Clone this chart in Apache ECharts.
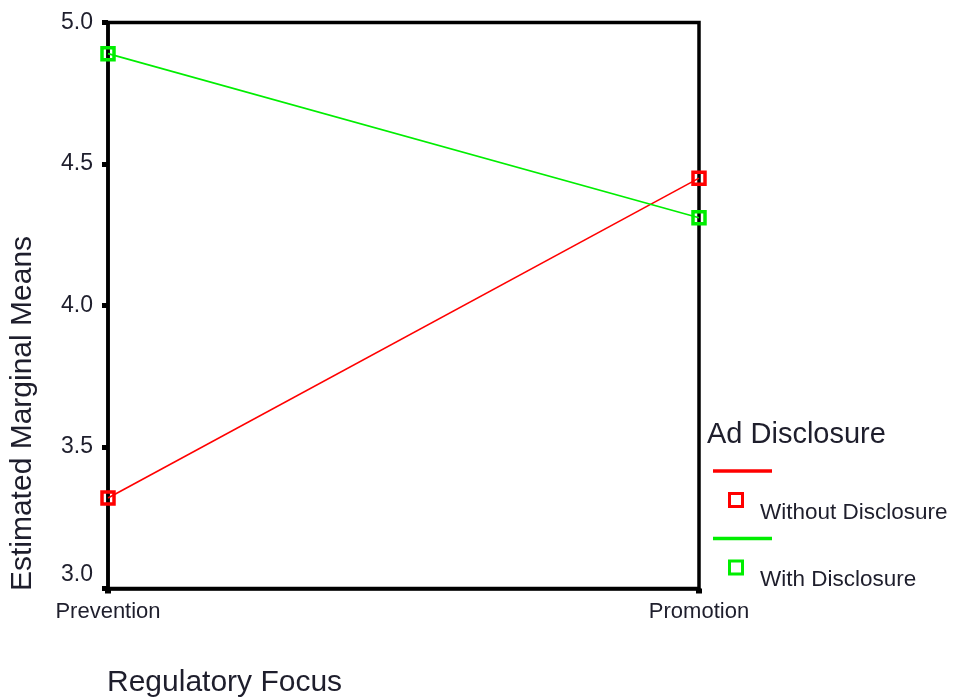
<!DOCTYPE html>
<html>
<head>
<meta charset="utf-8">
<script src="https://cdn.jsdelivr.net/npm/echarts@6/dist/echarts.min.js"></script>
<style>
  html, body { margin: 0; padding: 0; background: #fff; }
  #chart { width: 955px; height: 698px; }
</style>
</head>
<body>
<div id="chart"></div>
<script>
// Estimated marginal means by regulatory focus and ad disclosure
const categories = ['Prevention', 'Promotion'];
const withoutDisclosure = [3.32, 4.45];
const withDisclosure = [4.89, 4.31];
const seriesNames = ['Without Disclosure', 'With Disclosure'];
const seriesColors = ['#ff0000', '#00ee00'];
const legendTitle = 'Ad Disclosure';
const xTitle = 'Regulatory Focus';
const yTitle = 'Estimated Marginal Means';

const FONT = '"Liberation Sans", Arial, sans-serif';
const TEXT = '#1e1e2c';

const chart = echarts.init(document.getElementById('chart'), null, { renderer: 'canvas' });

function lineSeries(name, data, color) {
  return {
    name: name,
    type: 'line',
    data: data,
    symbol: 'rect',
    symbolSize: 12,
    showSymbol: true,
    lineStyle: { color: color, width: 1.6 },
    itemStyle: { color: 'rgba(0,0,0,0)', borderColor: color, borderWidth: 3.5 },
    emphasis: { disabled: true },
    z: 5
  };
}

// legend block: line sample, square marker, label
const legendGraphics = [
  { type: 'text', left: 707, top: 420, style: { text: legendTitle, font: '29px ' + FONT, fill: TEXT } }
];
seriesNames.forEach(function (name, i) {
  const y0 = 471 + i * 67.5;
  legendGraphics.push(
    { type: 'line', shape: { x1: 713, y1: y0, x2: 772, y2: y0 }, style: { stroke: seriesColors[i], lineWidth: 3.5 } },
    { type: 'rect', shape: { x: 729.5, y: y0 + 22.5, width: 13, height: 13 }, style: { fill: 'none', stroke: seriesColors[i], lineWidth: 3 } },
    { type: 'text', left: 760, top: y0 + 30, style: { text: name, font: '22.5px ' + FONT, fill: TEXT } }
  );
});

chart.setOption({
  animation: false,
  backgroundColor: '#ffffff',
  grid: {
    left: 108, right: 256, top: 22.5, bottom: 109.5,
    show: true, borderColor: '#000', borderWidth: 3.5, backgroundColor: 'transparent'
  },
  xAxis: {
    type: 'category',
    data: categories,
    boundaryGap: false,
    axisLine: { show: true, lineStyle: { color: '#000', width: 3.5 } },
    axisTick: { show: true, length: 5, lineStyle: { color: '#000', width: 6 } },
    axisLabel: { color: TEXT, fontFamily: FONT, fontSize: 22, margin: 12 },
    splitLine: { show: false }
  },
  yAxis: {
    type: 'value',
    min: 3.0, max: 5.0, interval: 0.5,
    axisLine: { show: true, lineStyle: { color: '#000', width: 3.5 } },
    axisTick: { show: true, length: 6, lineStyle: { color: '#000', width: 5 } },
    axisLabel: {
      color: TEXT, fontFamily: FONT, fontSize: 23, margin: 15,
      formatter: function (v) {
        return v === 3 ? '{lo|' + v.toFixed(1) + '}' : v.toFixed(1);
      },
      rich: { lo: { fontFamily: FONT, fontSize: 23, color: TEXT, padding: [0, 0, 28, 0] } }
    },
    splitLine: { show: false }
  },
  series: [
    lineSeries(seriesNames[0], withoutDisclosure, seriesColors[0]),
    lineSeries(seriesNames[1], withDisclosure, seriesColors[1])
  ],
  graphic: legendGraphics.concat([
    { type: 'text', left: 107, top: 668, style: { text: xTitle, font: '30px ' + FONT, fill: TEXT } },
    {
      type: 'text', x: 22.5, y: 413.5, rotation: Math.PI / 2,
      style: { text: yTitle, font: '30px ' + FONT, fill: TEXT, align: 'center', verticalAlign: 'middle' }
    }
  ])
});
</script>
</body>
</html>
